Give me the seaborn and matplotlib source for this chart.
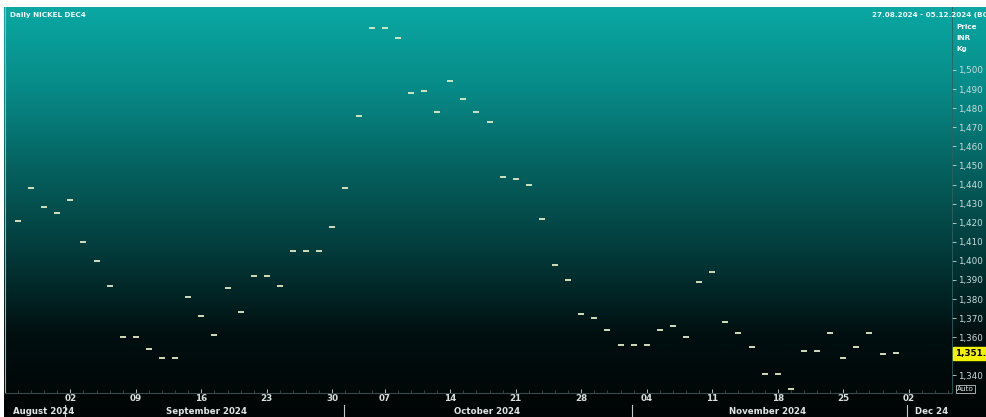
import numpy as np
import pandas as pd
import seaborn as sns
import matplotlib.pyplot as plt
from matplotlib.colors import LinearSegmentedColormap

# trading days shown on the chart (2 Oct is missing)
dates = (['2024-08-27', '2024-08-28', '2024-08-29', '2024-08-30']
         + [f'2024-09-{d:02d}' for d in [2, 3, 4, 5, 6, 9, 10, 11, 12, 13, 16, 17, 18, 19, 20,
                                        23, 24, 25, 26, 27, 30]]
         + [f'2024-10-{d:02d}' for d in [1, 3, 4, 7, 8, 9, 10, 11, 14, 15, 16, 17, 18,
                                        21, 22, 23, 24, 25, 28, 29, 30, 31]]
         + [f'2024-11-{d:02d}' for d in [1, 4, 5, 6, 7, 8, 11, 12, 13, 14, 15, 18, 19, 20,
                                        21, 22, 25, 26, 27, 28, 29]])

close = [1421, 1438, 1428, 1425, 1432, 1410, 1400, 1387, 1360, 1360,
         1354, 1349, 1349, 1381, 1371, 1361, 1386, 1373, 1392, 1392,
         1387, 1405, 1405, 1405, 1418, 1438, 1476, 1522, 1522, 1517,
         1488, 1489, 1478, 1494, 1485, 1478, 1473, 1444, 1443, 1440,
         1422, 1398, 1390, 1372, 1370, 1364, 1356, 1356, 1356, 1364,
         1366, 1360, 1389, 1394, 1368, 1362, 1355, 1341, 1341, 1333,
         1353, 1353, 1362, 1349, 1355, 1362, 1351, 1351.5]

# 1,350 is hidden behind the last-price box
y_ticks = [1340, 1360, 1370, 1380, 1390, 1400, 1410, 1420, 1430, 1440,
           1450, 1460, 1470, 1480, 1490, 1500]
last_price = '1,351.50'

months = ['August 2024', 'September 2024', 'October 2024', 'November 2024', 'Dec 24']
axis_end = ['2024-12-02', '2024-12-03', '2024-12-04', '2024-12-05']  # on the axis, no marks

df = pd.DataFrame({'date': pd.to_datetime(dates), 'close': close})
df['pos'] = range(len(df))
all_days = list(df['date']) + list(pd.to_datetime(axis_end))

W, H = 987, 417
fig = plt.figure(figsize=(W / 100, H / 100), dpi=100)
fig.patch.set_facecolor('white')

# background gradient
bg = fig.add_axes([4 / W, 0, 1 - 4 / W, (H - 7) / H], zorder=-1)
cmap = LinearSegmentedColormap.from_list('bg', ['#0aa8a3', '#078a87', '#05605e', '#033a3a', '#010f10', '#000404'])
grad = np.linspace(0, 1, 256).reshape(-1, 1)
bg.imshow(grad, aspect='auto', cmap=cmap, extent=[0, 1, 0, 1])
bg.axis('off')

ax = fig.add_axes([5 / W, (H - 393) / H, (952 - 5) / W, (393 - 7) / H])
ax.set_facecolor('none')
sns.scatterplot(data=df, x='pos', y='close', marker='_', s=22, linewidth=1.3,
                color='#e2ecc4', ax=ax, legend=False)

ax.set_xlim(-0.99, 71.3)
ax.set_ylim(1330.8, 1533)
ax.set_xlabel('')
ax.set_ylabel('')

ax.spines['top'].set_visible(False)
ax.spines['left'].set_color('#8fb8b6')
ax.spines['left'].set_linewidth(0.8)
ax.spines['right'].set_color('#2f6060')
ax.spines['right'].set_linewidth(0.6)
ax.spines['bottom'].set_color('#3a4a4a')
ax.spines['bottom'].set_linewidth(0.8)

# y axis on the right
ax.yaxis.tick_right()
ax.set_yticks(y_ticks)
ax.set_yticklabels([f'{v:,}' for v in y_ticks])
ax.tick_params(axis='y', colors='#c8dcdc', labelsize=6.3, length=3, width=0.6, pad=1)

# x axis: Mondays labelled, every trading day a minor tick
mondays = [i for i, d in enumerate(all_days) if d.dayofweek == 0]
ax.set_xticks(mondays)
ax.set_xticklabels([all_days[i].strftime('%d') for i in mondays])
ax.set_xticks(range(len(all_days)), minor=True)
ax.tick_params(axis='x', which='major', colors='#d8e0e0', labelsize=6.3, length=3,
               width=0.6, pad=1, direction='in')
ax.tick_params(axis='x', which='minor', colors='#4a5a5a', length=2, width=0.5, direction='in')
for lbl in ax.get_xticklabels():
    lbl.set_fontweight('bold')

# month bands below the axis
bounds = [3.6, 24.9, 46.9, 67.9]
for b in bounds:
    ax.plot([b, b], [-0.03, -0.07], color='#c0c8c8', lw=0.8,
            transform=ax.get_xaxis_transform(), clip_on=False)
month_x = [(13, 'left'), (207, 'center'), (487, 'center'), (768, 'center'), (915, 'left')]
for (px, ha), m in zip(month_x, months):
    fig.text(px / W, 1 - 411 / H, m, ha=ha, va='center', fontsize=6.2,
             color='#e0e6e6', fontweight='bold')

# header texts
fig.text(10 / W, 1 - 15 / H, 'Daily NICKEL DEC4', fontsize=5.2, color='#f0f8f8',
         fontweight='bold', va='center')
fig.text(872 / W, 1 - 15 / H, '27.08.2024 - 05.12.2024 (BOM)', fontsize=5.2,
         color='#f0f8f8', fontweight='bold', va='center')
for yy, t in [(27, 'Price'), (38, 'INR'), (49, 'Kg')]:
    fig.text(956 / W, 1 - yy / H, t, fontsize=5.2, color='#f0f8f8',
             fontweight='bold', va='center')

# last price box
ax.annotate(last_price, xy=(1.0, close[-1]), xycoords=('axes fraction', 'data'),
            xytext=(2, 0), textcoords='offset points', va='center', ha='left',
            fontsize=6.3, fontweight='bold', color='black', annotation_clip=False,
            bbox=dict(boxstyle='square,pad=0.2', fc='#f2f200', ec='#f2f200'))

fig.text(957 / W, 1 - 389 / H, 'Auto', fontsize=5.2, color='#e0e8e8', va='center',
         bbox=dict(boxstyle='square,pad=0.15', fc='none', ec='#c0c8c8', lw=0.6))

fig.savefig('out.png', dpi=100)
